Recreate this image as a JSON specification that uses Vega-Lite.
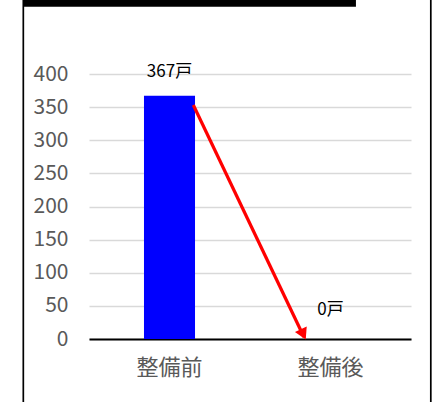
{
  "$schema": "https://vega.github.io/schema/vega-lite/v6.json",
  "autosize": {"type": "none"},
  "width": 322,
  "height": 265,
  "padding": {"left": 89, "top": 74, "right": 26, "bottom": 63},
  "background": "white",
  "config": {
    "font": "Noto Sans CJK JP",
    "view": {"stroke": null},
    "axisY": {
      "values": [0, 50, 100, 150, 200, 250, 300, 350, 400],
      "domain": false, "ticks": false, "labelColor": "#595959", "labelFontSize": 21,
      "labelPadding": 21, "grid": true, "gridColor": "#d9d9d9", "gridWidth": 1.5,
      "labelOverlap": false, "title": null
    },
    "axisX": {
      "title": null, "labelAngle": 0, "labelColor": "#595959", "labelFontSize": 22,
      "labelPadding": 18, "ticks": false, "domainColor": "black", "domainWidth": 2, "grid": false
    }
  },
  "layer": [
    {
      "data": {"values": [{}]},
      "mark": {"type": "rect", "fill": null, "stroke": "black", "strokeWidth": 1.7, "clip": false},
      "encoding": {
        "x": {"datum": -0.408, "type": "quantitative", "scale": {"domain": [0, 2]}, "axis": null},
        "x2": {"datum": 2.123},
        "y": {"datum": 526.8, "type": "quantitative", "scale": {"domain": [0, 400], "nice": false}, "title": null},
        "y2": {"datum": -110}
      }
    },
    {
      "data": {"values": [{}]},
      "mark": {"type": "rect", "fill": "black", "clip": false},
      "encoding": {
        "x": {"datum": -0.408, "type": "quantitative", "scale": {"domain": [0, 2]}, "axis": null},
        "x2": {"datum": 1.658},
        "y": {"datum": 526.8, "type": "quantitative", "scale": {"domain": [0, 400], "nice": false}, "title": null},
        "y2": {"datum": 501.6}
      }
    },
    {
      "data": {"values": [
        {"cat": "整備前", "value": 367, "label": "367戸"},
        {"cat": "整備後", "value": 0, "label": "0戸"}
      ]},
      "layer": [
        {
          "mark": {"type": "bar", "color": "#0000FF", "width": {"band": 0.317}},
          "encoding": {
            "x": {
              "field": "cat", "type": "nominal", "sort": null, "title": null,
              "scale": {"paddingInner": 0, "paddingOuter": 0}
            },
            "y": {
              "field": "value", "type": "quantitative", "title": null,
              "scale": {"domain": [0, 400], "nice": false}
            }
          }
        },
        {
          "transform": [{"filter": "datum.value > 0"}],
          "mark": {"type": "text", "fontSize": 17, "color": "black", "baseline": "middle", "dy": -24},
          "encoding": {
            "x": {"field": "cat", "type": "nominal", "sort": null, "title": null},
            "y": {"field": "value", "type": "quantitative", "title": null},
            "text": {"field": "label"}
          }
        },
        {
          "transform": [{"filter": "datum.value == 0"}],
          "mark": {"type": "text", "fontSize": 17, "color": "black", "baseline": "middle", "dy": -29},
          "encoding": {
            "x": {"field": "cat", "type": "nominal", "sort": null, "title": null},
            "y": {"field": "value", "type": "quantitative", "title": null},
            "text": {"field": "label"}
          }
        }
      ]
    },
    {
      "data": {"values": [{"x": 0.648, "y": 353.2, "x2": 1.335, "y2": 3}]},
      "mark": {"type": "rule", "color": "#FF0000", "strokeWidth": 3.2},
      "encoding": {
        "x": {"field": "x", "type": "quantitative", "scale": {"domain": [0, 2]}, "axis": null},
        "x2": {"field": "x2"},
        "y": {"field": "y", "type": "quantitative", "scale": {"domain": [0, 400], "nice": false}, "title": null},
        "y2": {"field": "y2"}
      }
    },
    {
      "data": {"values": [{"x": 1.331, "y": 7.1}]},
      "mark": {"type": "point", "shape": "triangle-up", "filled": true, "color": "#FF0000", "opacity": 1, "size": 170, "angle": 154.3},
      "encoding": {
        "x": {"field": "x", "type": "quantitative", "scale": {"domain": [0, 2]}, "axis": null},
        "y": {"field": "y", "type": "quantitative", "scale": {"domain": [0, 400], "nice": false}, "title": null}
      }
    }
  ],
  "resolve": {"scale": {"x": "independent"}}
}
